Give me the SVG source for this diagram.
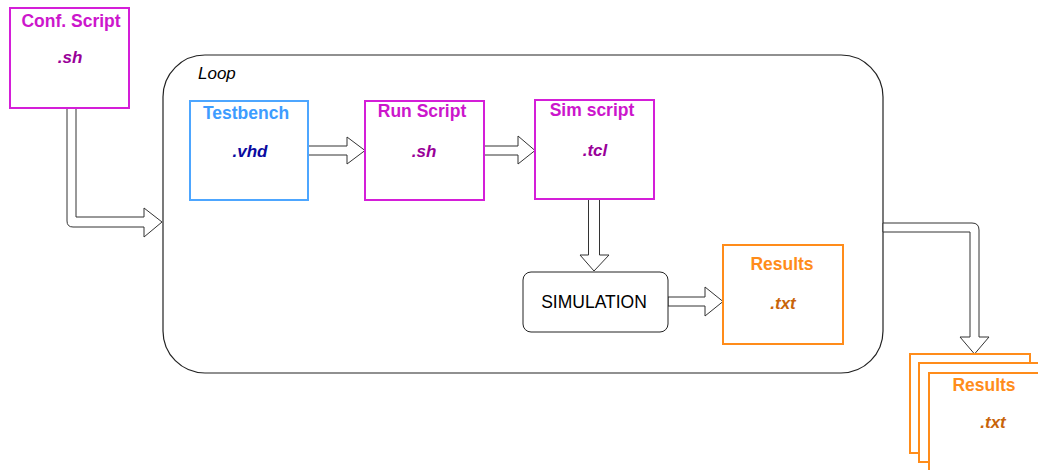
<svg xmlns="http://www.w3.org/2000/svg" width="1038" height="470" viewBox="0 0 1038 470">
  <style>
    .title { font-family: "Liberation Sans", Arial, sans-serif; font-weight: bold; font-size: 17.5px; text-anchor: middle; }
    .ext { font-family: "Liberation Sans", Arial, sans-serif; font-weight: bold; font-style: italic; font-size: 17px; text-anchor: middle; }
    .mag { fill: none; stroke: #d41ed8; stroke-width: 2; }
    .blue { fill: none; stroke: #4da6ff; stroke-width: 2; }
    .orange { fill: #fff; stroke: #ff8c1a; stroke-width: 2; }
    .arrow { fill: #fff; stroke: #333; stroke-width: 1; stroke-linejoin: miter; }
  </style>
  <rect width="1038" height="470" fill="#fff"/>

  <!-- loop container -->
  <g id="loop">
    <rect x="163" y="55" width="720" height="318" rx="42" ry="42" fill="none" stroke="#222" stroke-width="1.2"/>
    <text x="198" y="79" font-family="Liberation Sans, Arial, sans-serif" font-style="italic" font-size="17">Loop</text>
  </g>

  <!-- connectors -->
  <g id="connectors">
    <path class="arrow" d="M67,108 L67,221 Q67,227 73,227 L144,227 L144,237 L162,222 L144,208 L144,217 L76,217 L76,108 Z"/>
    <path class="arrow" d="M308,146 L347,146 L347,137 L365,150.5 L347,164 L347,155 L308,155 Z"/>
    <path class="arrow" d="M484,146 L518,146 L518,136 L535,150.5 L518,164 L518,155 L484,155 Z"/>
    <path class="arrow" d="M588.5,199 L588.5,255 L580,255 L594,271 L609,255 L599.5,255 L599.5,199 Z"/>
    <path class="arrow" d="M668,297 L705,297 L705,287 L723,301.5 L705,316 L705,306 L668,306 Z"/>
    <path class="arrow" d="M883,223 L972,223 Q979,223 979,230 L979,337 L989,337 L974.5,354 L960,337 L970,337 L970,232 L883,232 Z"/>
  </g>

  <g id="conf-script">
    <rect class="mag" x="10" y="8" width="119" height="100" fill="#fff"/>
    <text class="title" x="71" y="27" fill="#cc16cc">Conf. Script</text>
    <text class="ext" x="70" y="63" fill="#990099">.sh</text>
  </g>

  <g id="testbench">
    <rect class="blue" x="190" y="101" width="118" height="99"/>
    <text class="title" x="246" y="119" fill="#3d9cff">Testbench</text>
    <text class="ext" x="250" y="157" fill="#0a0aa0">.vhd</text>
  </g>

  <g id="run-script">
    <rect class="mag" x="365" y="101" width="119" height="99"/>
    <text class="title" x="422" y="117" fill="#cc16cc">Run Script</text>
    <text class="ext" x="424" y="157" fill="#990099">.sh</text>
  </g>

  <g id="sim-script">
    <rect class="mag" x="535" y="100" width="119" height="99"/>
    <text class="title" x="592" y="116" fill="#cc16cc">Sim script</text>
    <text class="ext" x="595" y="156" fill="#990099">.tcl</text>
  </g>

  <g id="simulation">
    <rect x="523" y="272" width="145" height="60" rx="8" ry="8" fill="#fff" stroke="#222" stroke-width="1"/>
    <text x="594" y="308" font-family="Liberation Sans, Arial, sans-serif" font-size="17.5" text-anchor="middle" fill="#000">SIMULATION</text>
  </g>

  <g id="results">
    <rect class="orange" x="723" y="245" width="120" height="99"/>
    <text class="title" x="782" y="270" fill="#ff8c1a">Results</text>
    <text class="ext" x="783" y="309" fill="#c8640a">.txt</text>
  </g>

  <g id="results-stack">
    <rect class="orange" x="910" y="354" width="120" height="99"/>
    <rect class="orange" x="919" y="363" width="120" height="99"/>
    <rect class="orange" x="929" y="373" width="120" height="99"/>
    <text class="title" x="984" y="391" fill="#ff8c1a">Results</text>
    <text class="ext" x="993" y="428" fill="#c8640a">.txt</text>
  </g>
</svg>
